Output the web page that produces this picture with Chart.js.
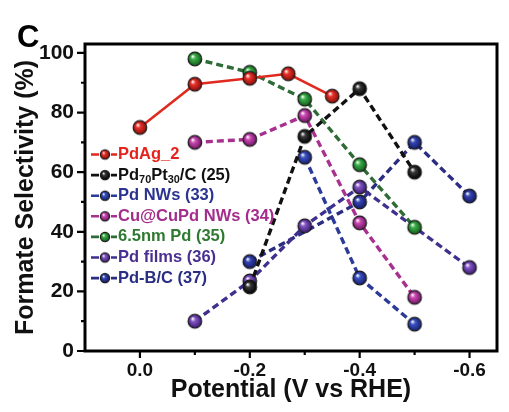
<!DOCTYPE html>
<html>
<head>
<meta charset="utf-8">
<script src="https://cdn.jsdelivr.net/npm/chart.js@4.4.0/dist/chart.umd.min.js"></script>
<style>
  html, body { margin: 0; padding: 0; background: #fff; }
  #wrap { width: 509px; height: 412px; }
</style>
</head>
<body>
<div id="wrap"><canvas id="c" width="509" height="412"></canvas></div>
<script>
/* ---- data ---- */
const seriesLabels = ["PdAg_2", "Pd₇₀Pt₃₀/C (25)", "Pd NWs (33)", "Cu@CuPd NWs (34)", "6.5nm Pd (35)", "Pd films (36)", "Pd-B/C (37)"];

const pdAgX = [0.0, -0.1, -0.2, -0.27, -0.35];
const pdAgY = [75, 89.5, 91.5, 93, 85.5];

const pdPtX = [-0.2, -0.3, -0.4, -0.5];
const pdPtY = [21.5, 72, 88, 60];

const pdNwX = [-0.3, -0.4, -0.5];
const pdNwY = [65, 24.5, 9];

const cuPdX = [-0.1, -0.2, -0.3, -0.4, -0.5];
const cuPdY = [70, 71, 79, 43, 18];

const pd65X = [-0.1, -0.2, -0.3, -0.4, -0.5];
const pd65Y = [98, 93.5, 84.5, 62.5, 41.5];

const pdFilmX = [-0.1, -0.2, -0.3, -0.4, -0.6];
const pdFilmY = [10, 23.5, 42, 55, 28];

const pdBCX = [-0.2, -0.4, -0.5, -0.6];
const pdBCY = [30, 50, 70, 52];

const xTickLabels = ["0.0", "-0.2", "-0.4", "-0.6"];
const yTickLabels = ["0", "20", "40", "60", "80", "100"];

/* ---- style ---- */
const FONT = "'Liberation Sans', Arial, sans-serif";
const STY = [
  { ball: "#e8322a", dark: "#8a0d08", line: "#e0291f", text: "#e5231c", dash: [] },
  { ball: "#3a3a3a", dark: "#000000", line: "#111111", text: "#111111", dash: [7, 4] },
  { ball: "#3c52c4", dark: "#17206e", line: "#2c3a98", text: "#2b3390", dash: [7, 4] },
  { ball: "#cc4ab4", dark: "#6e1462", line: "#a8308f", text: "#a42c8c", dash: [7, 4] },
  { ball: "#3cb04a", dark: "#125c1c", line: "#2f6b36", text: "#2e7a30", dash: [7, 4] },
  { ball: "#8456c4", dark: "#3a1b72", line: "#3f2f8e", text: "#4a2f92", dash: [7, 4] },
  { ball: "#3546b4", dark: "#141a66", line: "#2b2e80", text: "#2a2e82", dash: [7, 4] },
];

function ball(color, dark, r) {
  const s = Math.ceil(r * 2 + 4);
  const cv = document.createElement("canvas");
  cv.width = cv.height = s;
  const g = cv.getContext("2d"), c = s / 2;
  const gr = g.createRadialGradient(c - r * 0.35, c - r * 0.4, r * 0.05, c, c, r);
  gr.addColorStop(0, "#ffffff");
  gr.addColorStop(0.32, color);
  gr.addColorStop(1, dark);
  g.beginPath(); g.arc(c, c, r, 0, Math.PI * 2);
  g.fillStyle = gr; g.fill();
  g.lineWidth = 1.2; g.strokeStyle = "#1a1a1a"; g.stroke();
  return cv;
}

const xs = [pdAgX, pdPtX, pdNwX, cuPdX, pd65X, pdFilmX, pdBCX];
const ys = [pdAgY, pdPtY, pdNwY, cuPdY, pd65Y, pdFilmY, pdBCY];
const bigBalls = STY.map(s => ball(s.ball, s.dark, 6.8));
const smallBalls = STY.map(s => ball(s.ball, s.dark, 4.6));

const datasets = seriesLabels.map((lab, i) => ({
  label: lab,
  data: xs[i].map((x, k) => ({ x, y: ys[i][k] })),
  borderColor: STY[i].line,
  borderWidth: i === 0 ? 2.6 : 3.4,
  borderDash: STY[i].dash,
  pointStyle: bigBalls[i],
  pointRadius: 7,
  fill: false,
  tension: 0,
}));

/* ---- plugins: frame, ticks, legend, panel letter ---- */
const frame = {
  id: "frame",
  beforeDatasetsDraw(chart) {
    const { ctx, chartArea: a } = chart;
    ctx.save();
    ctx.lineWidth = 3; ctx.strokeStyle = "#000";
    ctx.strokeRect(a.left, a.top, a.right - a.left, a.bottom - a.top);
    // outward tick marks, long where a label sits
    const sx = chart.scales.x, sy = chart.scales.y;
    ctx.lineWidth = 2.2;
    ctx.beginPath();
    sx.ticks.forEach(t => {
      const px = sx.getPixelForValue(t.value);
      if (px < a.left + 2 || px > a.right - 2) return;
      const len = t.label ? 7 : 4;
      ctx.moveTo(px, a.bottom); ctx.lineTo(px, a.bottom + len);
    });
    sy.ticks.forEach(t => {
      const py = sy.getPixelForValue(t.value);
      if (py < a.top + 2) return;
      const len = t.label ? 8 : 4;
      ctx.moveTo(a.left, py); ctx.lineTo(a.left - len, py);
    });
    ctx.stroke();
    ctx.restore();
  },
};

const SUB = "₀₁₂₃₄₅₆₇₈₉";
function drawRich(ctx, str, x, y, size) {
  for (const ch of str) {
    const si = SUB.indexOf(ch);
    if (si >= 0) {
      ctx.font = "bold " + (size * 0.66).toFixed(1) + "px " + FONT;
      ctx.fillText(String(si), x, y + size * 0.28);
      x += ctx.measureText(String(si)).width;
    } else {
      ctx.font = "bold " + size + "px " + FONT;
      ctx.fillText(ch, x, y);
      x += ctx.measureText(ch).width;
    }
  }
}

const legendBox = {
  id: "legendBox",
  afterDatasetsDraw(chart) {
    const { ctx } = chart;
    ctx.save();
    ctx.textBaseline = "middle";
    chart.data.datasets.forEach((ds, i) => {
      const y = 154.5 + i * 20.6;
      ctx.strokeStyle = STY[i].line;
      ctx.lineWidth = 2.6;
      ctx.beginPath();
      ctx.moveTo(91, y); ctx.lineTo(99, y);
      ctx.moveTo(111, y); ctx.lineTo(117, y);
      ctx.stroke();
      const b = smallBalls[i];
      ctx.drawImage(b, 105 - b.width / 2, y - b.height / 2);
      ctx.fillStyle = STY[i].text;
      drawRich(ctx, ds.label, 118, y, 16.5);
    });
    ctx.fillStyle = "#000";
    ctx.textBaseline = "alphabetic";
    ctx.font = "bold 31px " + FONT;
    ctx.fillText("C", 17, 47);
    ctx.restore();
  },
};

new Chart(document.getElementById("c"), {
  type: "line",
  data: { datasets },
  options: {
    responsive: false,
    animation: false,
    layout: { padding: { top: 44, right: 12, left: 0, bottom: 0 } },
    plugins: { legend: { display: false }, tooltip: { enabled: false } },
    scales: {
      x: {
        type: "linear", reverse: true, min: -0.65, max: 0.1,
        afterFit(s) { s.height = 61; },
        border: { display: false },
        grid: { display: true, drawOnChartArea: false, drawTicks: false },
        ticks: {
          stepSize: 0.1, includeBounds: false, autoSkip: false, maxRotation: 0, padding: 8,
          color: "#111", font: { family: FONT, size: 19, weight: "bold" },
          callback(v) {
            const n = Math.round(v * 10);
            const s = (n / 10).toFixed(1);
            return xTickLabels.includes(s) ? s : (n === 0 ? xTickLabels[0] : "");
          },
        },
        title: {
          display: true, text: "Potential (V vs RHE)", color: "#111",
          font: { family: FONT, size: 25, weight: "bold" }, padding: { top: 0, bottom: 7 },
        },
      },
      y: {
        min: 0, max: 103,
        afterFit(s) { s.width = 85; },
        border: { display: false },
        grid: { display: true, drawOnChartArea: false, drawTicks: false },
        ticks: {
          stepSize: 10, includeBounds: false, autoSkip: false, padding: 11,
          color: "#111", font: { family: FONT, size: 21, weight: "bold" },
          callback(v) {
            const s = String(Math.round(v));
            return yTickLabels.includes(s) ? s : "";
          },
        },
        title: {
          display: true, text: "Formate Selectivity (%)", color: "#111",
          font: { family: FONT, size: 25, weight: "bold" }, padding: { top: 11, bottom: 0 },
        },
      },
    },
  },
  plugins: [frame, legendBox],
});
</script>
</body>
</html>
